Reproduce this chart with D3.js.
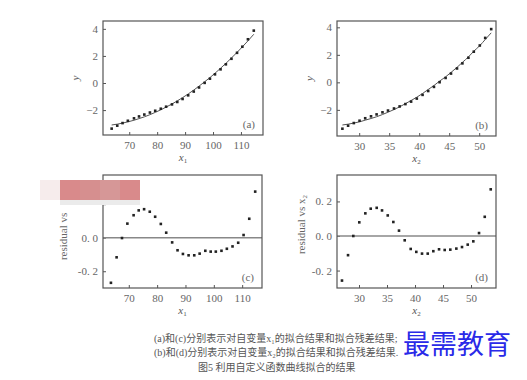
<!DOCTYPE html>
<html><head><meta charset="utf-8">
<script src="https://cdn.jsdelivr.net/npm/d3@7"></script>
<style>
body{margin:0;background:#fff;}
svg{display:block;}
</style>
</head><body>
<svg id="c" width="527" height="380"></svg>
<script>
// ---- data ----
const x1Vals = [63.7,65.7,67.6,69.5,71.7,73.5,75.4,77.4,79.3,81.3,83.2,85.3,87.2,89.1,91.1,93.1,95.0,97.0,98.9,100.7,102.7,104.6,106.6,108.6,110.5,112.5,114.6];
const x2Vals = [27.2,28.15,29.1,30.06,31.0,31.97,32.9,33.88,34.8,35.8,36.74,37.7,38.65,39.6,40.56,41.5,42.46,43.4,44.4,45.3,46.3,47.2,48.2,49.1,50.1,51.0,52.0];
const x2ValsD = [26.96,28.04,28.98,30.05,31.13,32.09,33.16,34.11,35.13,36.13,37.14,38.16,39.23,40.23,41.25,42.27,43.27,44.29,45.30,46.30,47.38,48.39,49.41,50.41,51.43,52.45,53.52];
const yVals = [-3.37,-3.15,-2.96,-2.79,-2.61,-2.47,-2.33,-2.18,-2.05,-1.90,-1.75,-1.58,-1.40,-1.18,-0.91,-0.63,-0.33,0.01,0.32,0.64,1.01,1.38,1.79,2.23,2.68,3.23,3.87];
const fitVals = [-3.10,-3.04,-2.96,-2.87,-2.75,-2.63,-2.50,-2.34,-2.17,-1.98,-1.78,-1.55,-1.32,-1.08,-0.81,-0.52,-0.23,0.09,0.40,0.72,1.09,1.45,1.85,2.26,2.67,3.11,3.60];
const resid1 = [-0.269,-0.117,-0.002,0.084,0.134,0.163,0.170,0.155,0.125,0.082,0.030,-0.028,-0.075,-0.097,-0.105,-0.105,-0.095,-0.078,-0.083,-0.083,-0.078,-0.066,-0.052,-0.030,0.016,0.113,0.275];
const resid2 = [-0.258,-0.111,0.000,0.079,0.131,0.158,0.163,0.148,0.119,0.081,0.031,-0.025,-0.075,-0.092,-0.102,-0.102,-0.088,-0.077,-0.081,-0.079,-0.073,-0.064,-0.050,-0.031,0.017,0.111,0.270];
const xTicks1 = [70,80,90,100,110];
const xTicks2 = [30,35,40,45,50];
const yTicksFit = [-2,0,2,4];
const yTicksRes = [-0.2,0.0,0.2];
const captionLines = ["(a)和(c)分别表示对自变量x₁的拟合结果和拟合残差结果;","(b)和(d)分别表示对自变量x₂的拟合结果和拟合残差结果.","图5  利用自定义函数曲线拟合的结果"];

// ---- layout ----
const svg = d3.select("#c");
const serif = "'Liberation Serif','DejaVu Serif',serif";
const cjk = "'Liberation Serif','Noto Sans CJK SC',serif";
const resFmt = d=>d3.format(".1f")(d).replace("−","-").replace(".", ". ");

const panels = [
  {id:"a", box:[103,263,21,135], xd:[60.6,117.9], yd:[-3.84,4.58], xs:x1Vals, ys:yVals, fit:fitVals, xt:xTicks1, yt:yTicksFit, fmt:d3.format("d"), xl:"1", yl:"y"},
  {id:"b", box:[337,496,21,136], xd:[26.3,52.8], yd:[-3.9,4.46], xs:x2Vals, ys:yVals, fit:fitVals, xt:xTicks2, yt:yTicksFit, fmt:d3.format("d"), xl:"2", yl:"y"},
  {id:"c", box:[103,262,175,288], xd:[60.9,117.0], yd:[-0.300,0.374], xs:x1Vals, ys:resid1, fit:null, xt:xTicks1, yt:yTicksRes, fmt:resFmt, xl:"1", yl:"res", sub:"1", ylx:36, yly:-1},
  {id:"d", box:[337,496,175,288], xd:[26.07,54.46], yd:[-0.301,0.353], xs:x2ValsD, ys:resid2, fit:null, xt:xTicks2, yt:yTicksRes, fmt:resFmt, xl:"2", yl:"res", sub:"2", ylx:32, yly:-7}
];

panels.forEach(p=>{
  const [l,r,t,b] = p.box;
  const x = d3.scaleLinear().domain(p.xd).range([l,r]);
  const y = d3.scaleLinear().domain(p.yd).range([b,t]);
  const g = svg.append("g");

  const ax = g.append("g").attr("transform",`translate(0,${b})`)
    .call(d3.axisBottom(x).tickValues(p.xt).tickSizeInner(-3).tickSizeOuter(0).tickPadding(6).tickFormat(d3.format("d")));
  const ay = g.append("g").attr("transform",`translate(${l},0)`)
    .call(d3.axisLeft(y).tickValues(p.yt).tickSizeInner(-3).tickSizeOuter(0).tickPadding(5).tickFormat(p.fmt));
  [ax,ay].forEach(a=>{
    a.select(".domain").remove();
    a.selectAll("line").attr("stroke","#555").attr("stroke-width",1);
    a.selectAll("text").attr("fill","#666").style("font-family",serif).style("font-size","11px");
  });

  if(!p.fit){
    g.append("line").attr("x1",l).attr("x2",r).attr("y1",y(0)).attr("y2",y(0))
      .attr("stroke","#888").attr("stroke-width",1.5);
  }
  if(p.fit){
    const pts = p.xs.map((v,i)=>[v,p.fit[i]]);
    g.append("path").datum(pts)
      .attr("d",d3.line().x(d=>x(d[0])).y(d=>y(d[1])).curve(d3.curveMonotoneX))
      .attr("fill","none").attr("stroke","#555").attr("stroke-width",1);
  }
  g.selectAll("rect.pt").data(p.xs.map((v,i)=>[v,p.ys[i]])).enter().append("rect")
    .attr("x",d=>x(d[0])-1.3).attr("y",d=>y(d[1])-1.3).attr("width",2.6).attr("height",2.6)
    .attr("fill","#222");

  g.append("rect").attr("x",l).attr("y",t).attr("width",r-l).attr("height",b-t)
    .attr("fill","none").attr("stroke","#555").attr("stroke-width",1.2);

  g.append("text").attr("x",r-8).attr("y",b-7).attr("text-anchor","end")
    .style("font-family",serif).style("font-size","11px").attr("fill","#666")
    .text(`(${p.id})`);

  const xlab = g.append("text").attr("x",(l+r)/2).attr("y",b+26).attr("text-anchor","middle")
    .style("font-family",serif).style("font-size","11px").attr("fill","#555");
  xlab.append("tspan").style("font-style","italic").text("x");
  xlab.append("tspan").attr("dy",2).style("font-size","7px").text(p.xl);

  if(p.yl==="y"){
    g.append("text").attr("transform",`translate(${l-24},${(t+b)/2}) rotate(-90)`)
      .attr("text-anchor","middle").style("font-family",serif).style("font-style","italic")
      .style("font-size","11px").attr("fill","#666").text("y");
  } else {
    const yl = g.append("text").attr("transform",`translate(${l-p.ylx},${(t+b)/2+p.yly}) rotate(-90)`)
      .attr("text-anchor","middle").style("font-family",serif)
      .style("font-size","11px").attr("fill","#666");
    yl.append("tspan").text("residual vs ");
    yl.append("tspan").text("x");
    yl.append("tspan").attr("dy",2).style("font-size","7px").text(p.sub);
  }
});

// pink watermark block
svg.append("rect").attr("x",58).attr("y",196).attr("width",44).attr("height",14).attr("fill","#fff");
const blocks = [[40,60,"#f6ecec"],[60,80,"#d98a8b"],[80,100,"#d68f8f"],[100,120,"#d69797"],[120,140,"#d98a8b"]];
blocks.forEach(bk=>{
  svg.append("rect").attr("x",bk[0]).attr("y",180).attr("width",bk[1]-bk[0]).attr("height",20).attr("fill",bk[2]);
});
svg.append("rect").attr("x",60).attr("y",200).attr("width",80).attr("height",5).attr("fill","#ebebeb");

// caption
const cap = svg.append("g").style("font-family",cjk).style("font-size","10px").attr("fill","#555");
cap.append("text").attr("x",154).attr("y",342).text(captionLines[0]);
cap.append("text").attr("x",154).attr("y",356).text(captionLines[1]);
cap.append("text").attr("x",198).attr("y",371).text(captionLines[2]);

// blue watermark
svg.append("text").attr("x",403).attr("y",354).style("font-family","'Noto Sans CJK SC',sans-serif")
  .style("font-size","27px").attr("fill","#2a2ae8").text("最需教育");
</script>
</body></html>
